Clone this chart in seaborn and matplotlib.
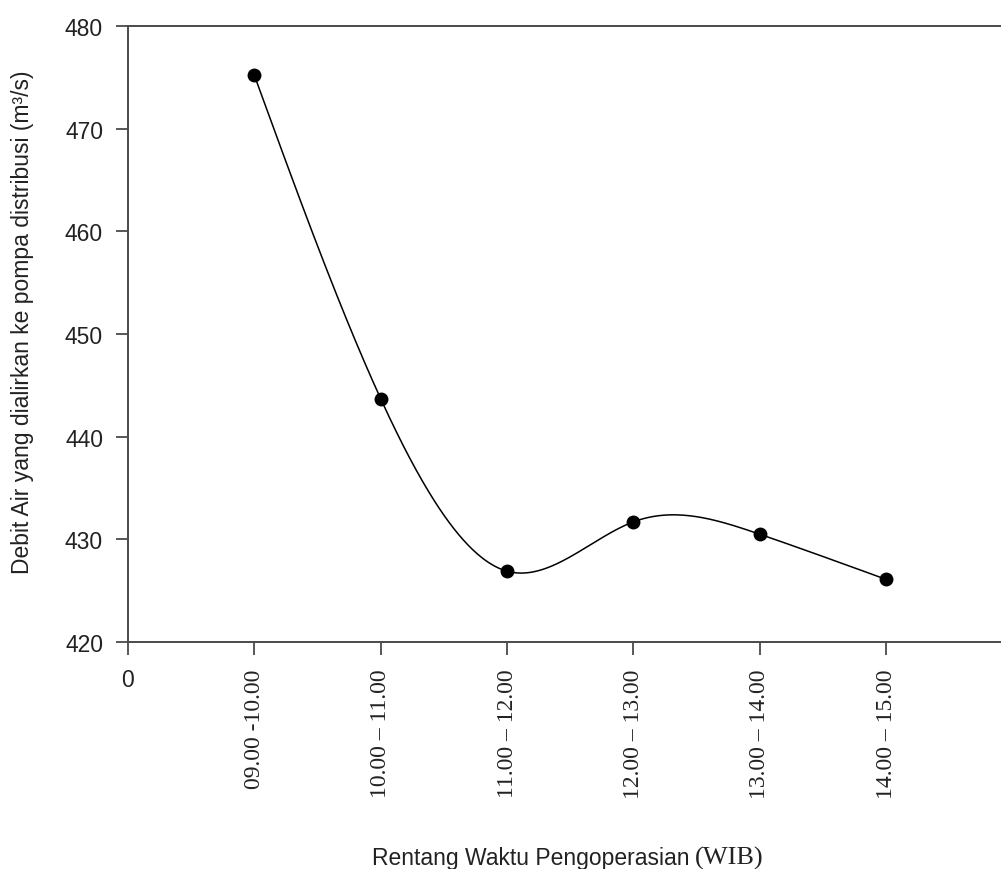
import numpy as np
import pandas as pd
import matplotlib
matplotlib.use("Agg")
import matplotlib.pyplot as plt
import seaborn as sns

# ---- data ----
categories = ["09.00 -10.00", "10.00 \u2013 11.00", "11.00 \u2013 12.00",
              "12.00 \u2013 13.00", "13.00 \u2013 14.00", "14.00 \u2013 15.00"]
positions = [1, 2, 3, 4, 5, 6]
debit = [475.2, 443.7, 426.9, 431.7, 430.5, 426.1]
y_ticks = [420, 430, 440, 450, 460, 470, 480]

sns.set_theme(style="white")
plt.rcParams['font.family'] = ['Liberation Sans', 'DejaVu Sans']

def natural_spline(xs, ys, n=400):
    xs = np.asarray(xs, float); ys = np.asarray(ys, float)
    k = len(xs)
    h = np.diff(xs)
    A = np.zeros((k, k)); b = np.zeros(k)
    A[0, 0] = 1; A[-1, -1] = 1
    for i in range(1, k - 1):
        A[i, i - 1] = h[i - 1]
        A[i, i] = 2 * (h[i - 1] + h[i])
        A[i, i + 1] = h[i]
        b[i] = 6 * ((ys[i + 1] - ys[i]) / h[i] - (ys[i] - ys[i - 1]) / h[i - 1])
    M = np.linalg.solve(A, b)
    xx = np.linspace(xs[0], xs[-1], n)
    idx = np.clip(np.searchsorted(xs, xx) - 1, 0, k - 2)
    x0 = xs[idx]; x1 = xs[idx + 1]; hh = x1 - x0
    y0 = ys[idx]; y1 = ys[idx + 1]; m0 = M[idx]; m1 = M[idx + 1]
    yy = (m0 * (x1 - xx) ** 3 / (6 * hh) + m1 * (xx - x0) ** 3 / (6 * hh)
          + (y0 / hh - m0 * hh / 6) * (x1 - xx) + (y1 / hh - m1 * hh / 6) * (xx - x0))
    return xx, yy

sx, sy = natural_spline(positions, debit)
curve = pd.DataFrame({"x": sx, "y": sy})
pts = pd.DataFrame({"x": positions, "y": debit})

fig = plt.figure(figsize=(10.01, 8.70), dpi=100)
ax = fig.add_axes([128 / 1001, 1 - 643 / 870, 1 - 128 / 1001, (643 - 27) / 870])

sns.lineplot(data=curve, x="x", y="y", ax=ax, color="black", linewidth=1.1,
             sort=False, estimator=None)
sns.scatterplot(data=pts, x="x", y="y", ax=ax, color="black", s=100,
                edgecolor="black", linewidth=0, zorder=5)

ax.set_xlim(0, 6.91)
ax.set_ylim(420, 480)
ax.set_yticks(y_ticks)
ax.set_yticklabels([str(v) for v in y_ticks])
ax.set_xticks([0] + positions)
ax.set_xticklabels(["0"] + categories)

spine_c = "#4a4a4a"
for s in ["left", "bottom", "top"]:
    ax.spines[s].set_color(spine_c)
    ax.spines[s].set_linewidth(1.4)
ax.spines["right"].set_visible(False)

ax.tick_params(axis="both", which="major", direction="out", length=9,
               width=1.3, color=spine_c, labelcolor="#222222",
               bottom=True, left=True, top=False, right=False)
ax.tick_params(axis="y", pad=9, labelsize=16.5)
ax.tick_params(axis="x", pad=10, labelsize=16.5)

xl = ax.get_xticklabels()
for i, t in enumerate(xl):
    if i == 0:
        t.set_fontfamily(['Liberation Sans'])
        t.set_fontsize(16.5)
    else:
        t.set_fontfamily(['Liberation Serif'])
        t.set_fontsize(17)
        t.set_rotation(90)

ax.set_xlabel("")
ax.set_ylabel("")
fig.text(23 / 1001, 1 - 322 / 870,
         "Debit Air yang dialirkan ke pompa distribusi (m\u00b3/s)",
         rotation=90, ha="center", va="center", fontsize=16.5, color="#222222",
         family=['Liberation Sans'])

fig.text(690 / 1001, 1 - 865 / 870, "Rentang Waktu Pengoperasian", ha="right",
         va="baseline", fontsize=16.5, color="#222222", family=['Liberation Sans'])
fig.text(695 / 1001, 1 - 865 / 870, "(WIB)", ha="left", va="baseline",
         fontsize=19, color="#222222", family=['Liberation Serif'])

fig.savefig("out.png", dpi=100, facecolor="white")
